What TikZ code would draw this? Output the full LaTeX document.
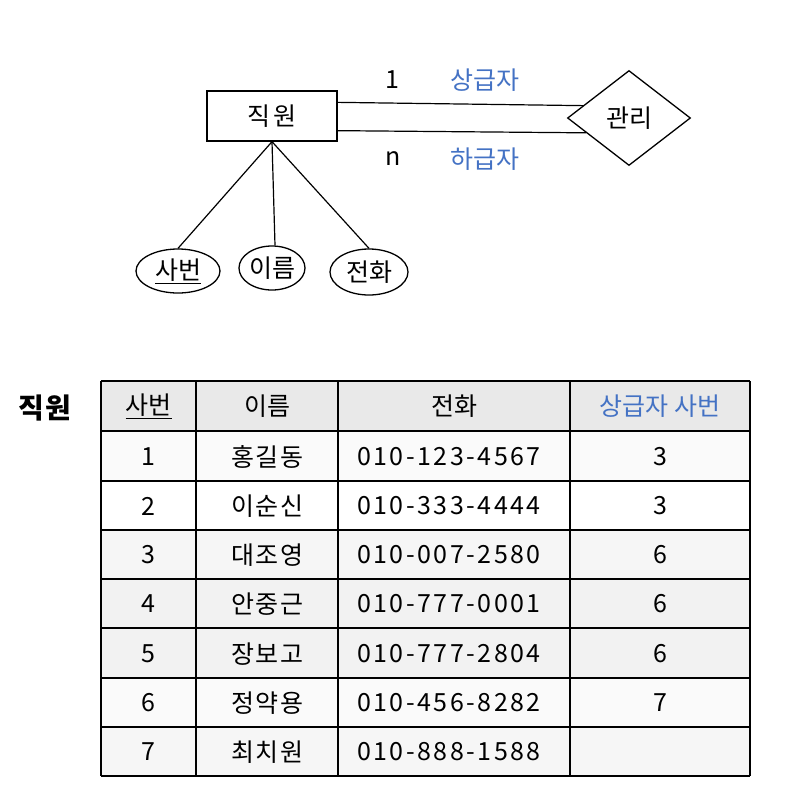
\documentclass[tikz,border=0pt]{standalone}
\usepackage{fontspec}
\setmainfont{Noto Sans CJK KR}
\newfontfamily\spaced[LetterSpace=10]{Noto Sans CJK KR}
\newfontfamily\kspaced[LetterSpace=6]{Noto Sans CJK KR}
\newfontfamily\wide[LetterSpace=12]{Noto Sans CJK KR}
\usetikzlibrary{shapes.geometric}
\definecolor{kblue}{RGB}{68,114,196}
\definecolor{hdr}{RGB}{233,233,233}
\definecolor{rowa}{RGB}{250,250,250}
\definecolor{rowb}{RGB}{242,242,242}
\definecolor{rowc}{RGB}{246,246,246}
\begin{document}
\begin{tikzpicture}[x=1pt,y=-1pt,
  base/.style={font=\fontsize{25}{29}\selectfont},
  ent/.style={draw, line width=1.3pt, minimum width=130pt, minimum height=50pt, inner sep=0pt, font=\fontsize{25}{29}\selectfont\wide},
  rel/.style={draw, diamond, line width=1.3pt, minimum width=123pt, minimum height=95pt, inner sep=0pt, base},
  attr/.style={draw, ellipse, line width=1.3pt, minimum height=44pt, inner sep=0pt, base},
  conn/.style={line width=1.2pt},
  lbl/.style={base},
  bluelbl/.style={base, text=kblue},
  cell/.style={font=\fontsize{25}{29}\selectfont, inner sep=0pt},
  kcell/.style={font=\fontsize{25}{29}\selectfont\kspaced, inner sep=0pt},
  numcell/.style={font=\fontsize{25}{29}\selectfont\spaced, inner sep=0pt},
  grid/.style={line width=1.7pt, draw=black}
]
\useasboundingbox (0,0) rectangle (788,804);

% ER diagram
\node[ent] (zg) at (272,116) {직원};
\node[rel] (gl) at (629,118) {관리};
\node[attr, minimum width=84pt] (sb) at (178,271) {\underline{사번}};
\node[attr, minimum width=66pt] (ir) at (272,268) {이름};
\node[attr, minimum width=78pt, minimum height=46pt] (jh) at (369,272) {전화};

\draw[conn] ([yshift=-12pt]zg.north east) -- (gl.165);
\draw[conn] ([yshift=11pt]zg.south east) -- (gl.199);
\draw[conn] (zg.south) -- (sb.north);
\draw[conn] (zg.south) -- ([xshift=3pt]ir.north);
\draw[conn] (zg.south) -- (jh.north);

\node[lbl] (one) at (392,80) {1};
\node[bluelbl] (sang) at (485,80) {상급자};
\node[lbl] (nn) at (393,159) {n};
\node[bluelbl] (ha) at (485,159) {하급자};

% table
\node[font=\fontsize{28}{32}\selectfont\bfseries\kspaced] (tname) at (45,408) {직원};

\fill[hdr] (101,381) rectangle (750,431);
\fill[rowa] (101,431) rectangle (750,481);
\fill[white] (101,481) rectangle (750,530);
\fill[rowc] (101,530) rectangle (750,579);
\fill[rowb] (101,579) rectangle (750,628);
\fill[rowb] (101,628) rectangle (750,678);
\fill[rowa] (101,678) rectangle (750,727);
\fill[rowc] (101,727) rectangle (750,776);

\foreach \yy in {381,431,481,530,579,628,678,727,776}
  \draw[grid] (101,\yy) -- (750,\yy);
\foreach \xx in {101,196,338,570,750}
  \draw[grid] (\xx,381) -- (\xx,776);

\node[cell] (h1) at (148.5,406) {\underline{사번}};
\node[cell] (h2) at (267,406) {이름};
\node[cell] (h3) at (454,406) {전화};
\node[cell, text=kblue] (h4) at (660,406) {상급자 사번};

\foreach \n/\yy/\nm/\ph/\sup in {
  1/457/홍길동/010-123-4567/3,
  2/506/이순신/010-333-4444/3,
  3/555/대조영/010-007-2580/6,
  4/604/안중근/010-777-0001/6,
  5/654/장보고/010-777-2804/6,
  6/703/정약용/010-456-8282/7,
  7/752/최치원/010-888-1588/{}}{
  \node[cell] (n\n) at (148.5,\yy) {\n};
  \node[kcell] (m\n) at (267,\yy) {\nm};
  \node[numcell] (p\n) at (449,\yy) {\ph};
  \node[cell] (s\n) at (660,\yy) {\sup};
}
\end{tikzpicture}
\end{document}
